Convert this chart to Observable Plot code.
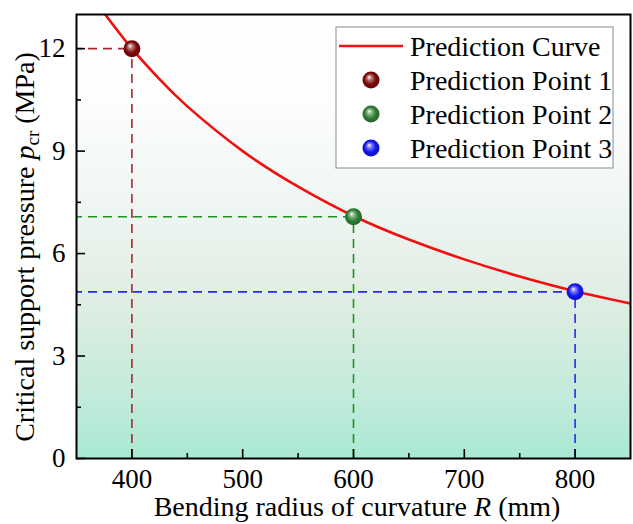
<!DOCTYPE html>
<html>
<head>
<meta charset="utf-8">
<script src="https://cdn.jsdelivr.net/npm/d3@7"></script>
<script src="https://cdn.jsdelivr.net/npm/@observablehq/plot@0.6"></script>
<style>
  html, body { margin: 0; padding: 0; background: #fff; }
  #chart { width: 633px; height: 524px; }
</style>
</head>
<body>
<div id="chart"></div>
<script>
// ---- data ----
const curveR = [375, 400, 425, 450, 500, 550, 600, 650, 700, 750, 800, 850];
const curveP = [13.04, 12.0, 11.1, 10.31, 9.0, 7.96, 7.1, 6.41, 5.83, 5.33, 4.9, 4.54];

const pointNames = ["Prediction Point 1", "Prediction Point 2", "Prediction Point 3"];
const pointR = [400, 600, 800];
const pointP = [12.0, 7.08, 4.88];
const pointColors = ["#7d0808", "#2f7d33", "#1414f2"];
const dashColors = ["#a8282c", "#1e9420", "#2a2aea"];

const xTicks = [400, 500, 600, 700, 800];
const xMinor = [450, 550, 650, 750];
const yTicks = [0, 3, 6, 9, 12];
const yMinor = [1.5, 4.5, 7.5, 10.5];
const curveName = "Prediction Curve";

// ---- layout ----
const W = 633, H = 524;
const mL = 76, mR = 3, mT = 14, mB = 66;
const pw = W - mL - mR, ph = H - mT - mB;
const FONT = "'Liberation Serif', 'Times New Roman', serif";
const FS = 27, TFS = 28;

const curve = curveR.map((r, i) => ({R: r, p: curveP[i]}));
const pts = pointR.map((r, i) => ({name: pointNames[i], R: r, p: pointP[i], i}));

const marks = [
  Plot.frame({fill: "url(#bgGrad)", stroke: "none"}),
  Plot.axisX(xTicks, {tickSize: 0, tickPadding: 10, fontSize: FS, label: null}),
  Plot.axisY(yTicks, {tickSize: 0, tickPadding: 11, fontSize: FS, label: null}),
];
pts.forEach((d, i) => {
  marks.push(Plot.ruleY([d], {y: "p", x1: 350, x2: "R", stroke: dashColors[i], strokeWidth: 1.6, strokeDasharray: "9,6", strokeDashoffset: -12}));
  marks.push(Plot.ruleX([d], {x: "R", y1: 0, y2: "p", stroke: dashColors[i], strokeWidth: 1.6, strokeDasharray: "9,6"}));
});
marks.push(Plot.line(curve, {x: "R", y: "p", stroke: "#f01010", strokeWidth: 2.6, curve: "natural", clip: true}));
pts.forEach((d, i) => {
  marks.push(Plot.dot([d], {x: "R", y: "p", r: 8.5, fill: `url(#sph${i})`, stroke: "none"}));
});
marks.push(Plot.frame({stroke: "#000", strokeWidth: 2}));
marks.push(Plot.tickX(xTicks, {x: d => d, insetTop: ph - 9, stroke: "#000", strokeWidth: 1.6}));
marks.push(Plot.tickX(xMinor, {x: d => d, insetTop: ph - 5, stroke: "#000", strokeWidth: 1.6}));
marks.push(Plot.tickY(yTicks, {y: d => d, insetRight: pw - 9, stroke: "#000", strokeWidth: 1.6}));
marks.push(Plot.tickY(yMinor, {y: d => d, insetRight: pw - 5, stroke: "#000", strokeWidth: 1.6}));

const svg = Plot.plot({
  width: W, height: H,
  marginLeft: mL, marginRight: mR, marginTop: mT, marginBottom: mB,
  style: {fontFamily: FONT, fontSize: FS + "px", color: "#000", background: "#fff"},
  x: {domain: [350, 850]},
  y: {domain: [0, 13]},
  marks
});
document.getElementById("chart").appendChild(svg);

const s = d3.select(svg);
const defs = s.insert("defs", ":first-child");
const bg = defs.append("linearGradient").attr("id", "bgGrad").attr("x1", 0).attr("y1", 0).attr("x2", 0).attr("y2", 1);
[[0, "#ffffff"], [0.2, "#fcfdfd"], [0.4, "#f1f7f4"], [0.6, "#e3efe6"], [0.72, "#d6ecdf"], [0.86, "#c2ebdb"], [1, "#a9e9d2"]]
  .forEach(([o, c]) => bg.append("stop").attr("offset", o).attr("stop-color", c));
pointColors.forEach((c, i) => {
  const g = defs.append("radialGradient").attr("id", `sph${i}`).attr("cx", "50%").attr("cy", "50%").attr("r", "55%").attr("fx", "38%").attr("fy", "32%");
  g.append("stop").attr("offset", 0).attr("stop-color", "#ffffff");
  g.append("stop").attr("offset", 0.25).attr("stop-color", d3.interpolateRgb("#ffffff", c)(0.55));
  g.append("stop").attr("offset", 0.6).attr("stop-color", c);
  g.append("stop").attr("offset", 1).attr("stop-color", d3.color(c).darker(0.8));
});

// axis titles
const xt = s.append("text").attr("x", 357).attr("y", 516).attr("text-anchor", "middle")
  .attr("font-family", FONT).attr("font-size", TFS).attr("fill", "#000");
xt.append("tspan").text("Bending radius of curvature ");
xt.append("tspan").attr("font-style", "italic").text("R");
xt.append("tspan").text(" (mm)");

const yt = s.append("text").attr("transform", `translate(34,247) rotate(-90)`).attr("text-anchor", "middle")
  .attr("font-family", FONT).attr("font-size", TFS).attr("fill", "#000");
yt.append("tspan").text("Critical support pressure ");
yt.append("tspan").attr("font-style", "italic").text("p");
yt.append("tspan").attr("font-size", TFS * 0.68).attr("dy", 5).text("cr");
yt.append("tspan").attr("dy", -5).text(" (MPa)");

// legend
const lg = s.append("g").attr("text-anchor", "start");
lg.append("rect").attr("x", 336).attr("y", 27).attr("width", 277).attr("height", 141)
  .attr("fill", "#fff").attr("stroke", "#8a8a8a").attr("stroke-width", 1);
lg.append("line").attr("x1", 339).attr("x2", 403).attr("y1", 46).attr("y2", 46).attr("stroke", "#f01010").attr("stroke-width", 2.6);
lg.append("text").attr("x", 410).attr("y", 46).attr("dy", "0.35em").attr("text-anchor", "start")
  .attr("font-family", FONT).attr("font-size", TFS).text(curveName);
pointNames.forEach((n, i) => {
  const y = 80 + i * 34;
  lg.append("circle").attr("cx", 371).attr("cy", y).attr("r", 8.5).attr("fill", `url(#sph${i})`);
  lg.append("text").attr("x", 410).attr("y", y).attr("dy", "0.35em").attr("text-anchor", "start")
    .attr("font-family", FONT).attr("font-size", TFS).text(n);
});
</script>
</body>
</html>
